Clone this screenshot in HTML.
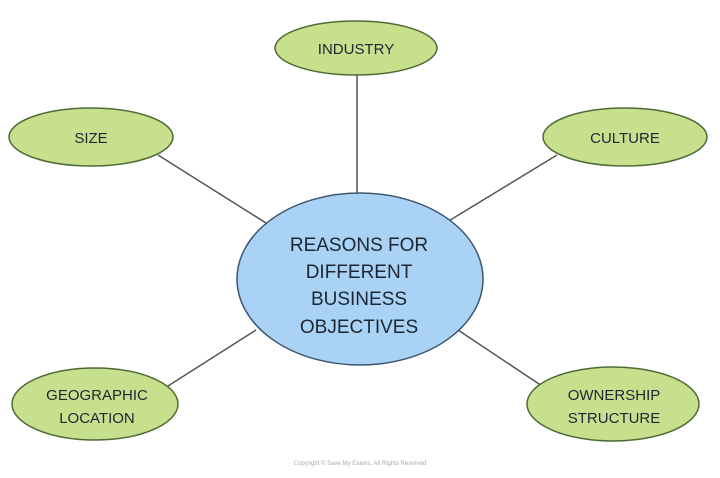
<!DOCTYPE html>
<html><head><style>body{margin:0;background:#fff}</style></head><body>
<svg width="720" height="478" xmlns="http://www.w3.org/2000/svg" style="display:block">
<g stroke="#555" stroke-width="1.5">
<line x1="357" y1="75" x2="357" y2="195"/>
<line x1="158" y1="155" x2="266" y2="223"/>
<line x1="557" y1="155" x2="447" y2="222"/>
<line x1="168" y1="386" x2="256" y2="330"/>
<line x1="542" y1="386" x2="455" y2="328"/>
</g>
<g fill="#c6e08e" stroke="#4d6b35" stroke-width="1.5">
<ellipse cx="356" cy="48" rx="81" ry="27"/>
<ellipse cx="91" cy="137" rx="82" ry="29"/>
<ellipse cx="625" cy="137" rx="82" ry="29"/>
<ellipse cx="95" cy="404" rx="83" ry="36"/>
<ellipse cx="613" cy="404" rx="86" ry="37"/>
</g>
<ellipse cx="360" cy="279" rx="123" ry="86" fill="#a9d2f4" stroke="#3d5670" stroke-width="1.5"/>
<g font-family="Liberation Sans, sans-serif" fill="#1c2733" text-anchor="middle" font-size="15">
<text x="356" y="54">INDUSTRY</text>
<text x="91" y="143">SIZE</text>
<text x="625" y="143">CULTURE</text>
<text x="97" y="400">GEOGRAPHIC</text>
<text x="97" y="423">LOCATION</text>
<text x="614" y="400">OWNERSHIP</text>
<text x="614" y="423">STRUCTURE</text>
<g font-size="19">
<text x="359" y="251">REASONS FOR</text>
<text x="359" y="278">DIFFERENT</text>
<text x="359" y="305">BUSINESS</text>
<text x="359" y="333">OBJECTIVES</text>
</g>
<text x="360" y="465" font-size="6" fill="#aaa">Copyright © Save My Exams. All Rights Reserved</text>
</g>
</svg>
</body></html>
